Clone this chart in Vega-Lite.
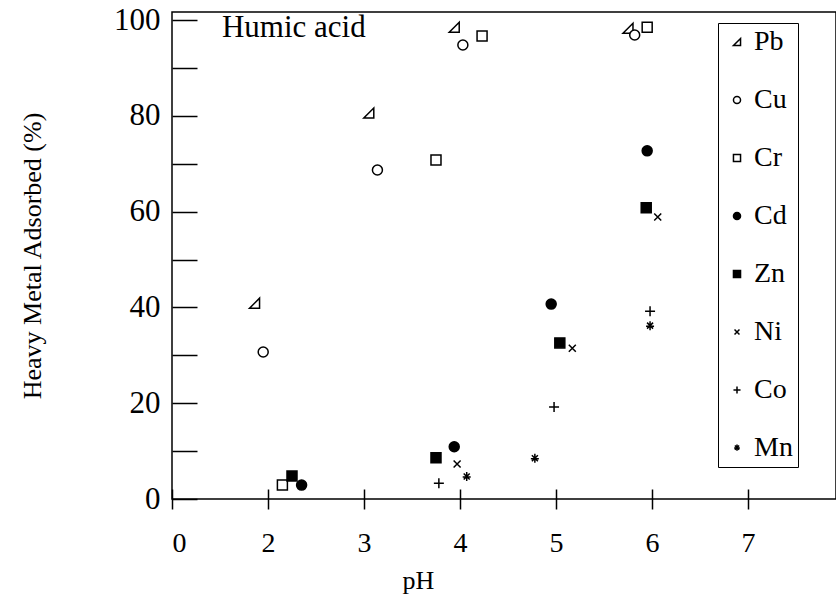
{
  "$schema": "https://vega.github.io/schema/vega-lite/v6.json",
  "width": 664,
  "height": 487,
  "autosize": {"type": "none"},
  "padding": {"left": 172, "top": 12, "right": 0, "bottom": 102},
  "background": "white",
  "config": {
    "view": {"stroke": "black", "strokeWidth": 1.5},
    "font": "Liberation Serif"
  },
  "layer": [
    {
      "data": {"values": [
        {"metal": "Pb", "pH": 1.86, "value": 40.9},
        {"metal": "Pb", "pH": 3.05, "value": 80.6},
        {"metal": "Pb", "pH": 3.94, "value": 98.5},
        {"metal": "Pb", "pH": 5.75, "value": 98.3},
        {"metal": "Cu", "pH": 1.95, "value": 30.7},
        {"metal": "Cu", "pH": 3.14, "value": 68.7},
        {"metal": "Cu", "pH": 4.03, "value": 94.8},
        {"metal": "Cu", "pH": 5.82, "value": 96.9},
        {"metal": "Cr", "pH": 2.15, "value": 2.9},
        {"metal": "Cr", "pH": 3.75, "value": 70.8},
        {"metal": "Cr", "pH": 4.23, "value": 96.7},
        {"metal": "Cr", "pH": 5.95, "value": 98.5},
        {"metal": "Cd", "pH": 2.35, "value": 2.9},
        {"metal": "Cd", "pH": 3.94, "value": 10.9},
        {"metal": "Cd", "pH": 4.95, "value": 40.7},
        {"metal": "Cd", "pH": 5.95, "value": 72.7},
        {"metal": "Zn", "pH": 2.25, "value": 4.8},
        {"metal": "Zn", "pH": 3.75, "value": 8.6},
        {"metal": "Zn", "pH": 5.04, "value": 32.6},
        {"metal": "Zn", "pH": 5.94, "value": 60.8},
        {"metal": "Ni", "pH": 3.97, "value": 7.3},
        {"metal": "Ni", "pH": 5.17, "value": 31.5},
        {"metal": "Ni", "pH": 6.06, "value": 58.9},
        {"metal": "Co", "pH": 3.78, "value": 3.3},
        {"metal": "Co", "pH": 4.98, "value": 19.2},
        {"metal": "Co", "pH": 5.98, "value": 39.2},
        {"metal": "Mn", "pH": 4.07, "value": 4.6},
        {"metal": "Mn", "pH": 4.78, "value": 8.4},
        {"metal": "Mn", "pH": 5.98, "value": 36.1}
      ]},
      "mark": {"type": "point", "strokeWidth": 1.5, "opacity": 1, "size": 100},
      "encoding": {
        "x": {
          "field": "pH", "type": "quantitative",
          "scale": {"domain": [1, 7.917], "nice": false, "zero": false},
          "axis": {
            "title": "pH", "values": [1, 2, 3, 4, 5, 6, 7],
            "labelExpr": "datum.value == 1 ? '0' : format(datum.value, 'd')",
            "domain": false, "grid": false, "offset": -10, "tickSize": 20,
            "tickColor": "black", "tickWidth": 1.5,
            "labelFont": "Liberation Serif", "labelFontSize": 28, "labelColor": "black",
            "labelPadding": 20,
            "titleFont": "Liberation Serif", "titleFontSize": 26, "titleFontWeight": "normal", "titleColor": "black",
            "titleX": 246, "titleY": 99, "titleAlign": "center", "titleBaseline": "alphabetic"
          }
        },
        "y": {
          "field": "value", "type": "quantitative",
          "scale": {"domain": [0, 101.7], "nice": false},
          "axis": {
            "title": "Heavy Metal Adsorbed (%)",
            "values": [0, 10, 20, 30, 40, 50, 60, 70, 80, 90, 100],
            "labelExpr": "datum.value % 20 == 0 ? datum.label : ''",
            "domain": false, "grid": false, "offset": -25, "tickSize": 25,
            "tickColor": "black", "tickWidth": 1.5,
            "labelFont": "Liberation Serif", "labelFontSize": 31, "labelColor": "black",
            "labelPadding": 12,
            "titleFont": "Liberation Serif", "titleFontSize": 26, "titleFontWeight": "normal", "titleColor": "black",
            "titlePadding": 68
          }
        },
        "shape": {
          "field": "metal", "type": "nominal",
          "scale": {
            "domain": ["Pb", "Cu", "Cr", "Cd", "Zn", "Ni", "Co", "Mn"],
            "range": [
              "M-1,1L1,1L1,-1Z",
              "circle",
              "square",
              "circle",
              "square",
              "M-0.7,-0.7L0.7,0.7M-0.7,0.7L0.7,-0.7",
              "M-1,0L1,0M0,-1L0,1",
              "M-0.8,0L0.8,0M0,-1L0,0.8M-0.6,-0.7L0.6,0.5M-0.6,0.5L0.6,-0.7"
            ]
          },
          "legend": {
            "title": null, "orient": "none", "legendX": 546, "legendY": 11,
            "strokeColor": "black", "padding": 5,
            "rowPadding": 30, "symbolSize": 50, "symbolStrokeWidth": 1.5,
            "labelFont": "Liberation Serif", "labelFontSize": 28, "labelColor": "black",
            "labelOffset": 3, "fillColor": "white"
          }
        },
        "fill": {
          "field": "metal", "type": "nominal",
          "scale": {
            "domain": ["Pb", "Cu", "Cr", "Cd", "Zn", "Ni", "Co", "Mn"],
            "range": ["white", "white", "white", "black", "black", "transparent", "transparent", "transparent"]
          },
          "legend": {
            "title": null, "orient": "none", "legendX": 546, "legendY": 11,
            "strokeColor": "black", "padding": 5,
            "rowPadding": 30, "symbolSize": 50, "symbolStrokeWidth": 1.5,
            "labelFont": "Liberation Serif", "labelFontSize": 28, "labelColor": "black",
            "labelOffset": 3, "fillColor": "white"
          }
        },
        "stroke": {
          "field": "metal", "type": "nominal",
          "scale": {
            "domain": ["Pb", "Cu", "Cr", "Cd", "Zn", "Ni", "Co", "Mn"],
            "range": ["black", "black", "black", "black", "black", "black", "black", "black"]
          },
          "legend": {
            "title": null, "orient": "none", "legendX": 546, "legendY": 11,
            "strokeColor": "black", "padding": 5,
            "rowPadding": 30, "symbolSize": 50, "symbolStrokeWidth": 1.5,
            "labelFont": "Liberation Serif", "labelFontSize": 28, "labelColor": "black",
            "labelOffset": 3, "fillColor": "white"
          }
        }
      }
    },
    {
      "data": {"values": [{"pH": 1.52, "value": 98.4, "label": "Humic acid"}]},
      "mark": {"type": "text", "align": "left", "baseline": "middle", "font": "Liberation Serif", "fontSize": 31, "color": "black"},
      "encoding": {
        "x": {"field": "pH", "type": "quantitative"},
        "y": {"field": "value", "type": "quantitative"},
        "text": {"field": "label"}
      }
    }
  ]
}
